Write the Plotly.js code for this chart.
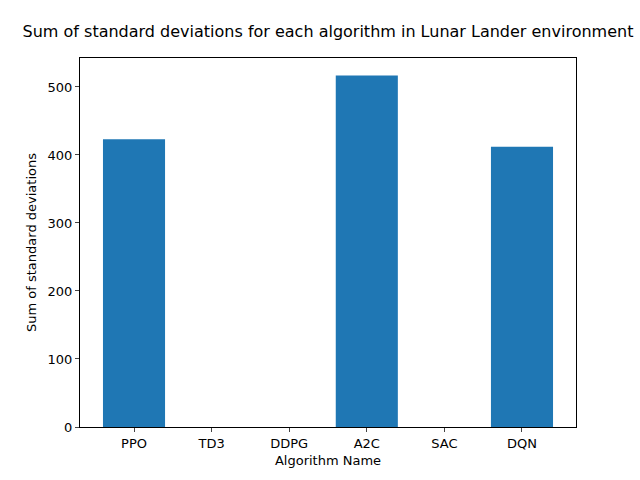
<!DOCTYPE html>
<html>
<head>
<script src="https://cdn.plot.ly/plotly-3.0.1.min.js"></script>
<style>body{margin:0}#chart{width:640px;height:480px}</style>
</head>
<body>
<div id="chart"></div>
<script>
const algorithms = ["PPO", "TD3", "DDPG", "A2C", "SAC", "DQN"];
const stdSums = [423, 0, 0, 517, 0, 412];
const yTicks = [0, 100, 200, 300, 400, 500];

const trace = {
  type: "bar",
  x: algorithms.map((_, i) => i),
  y: stdSums,
  width: 0.8,
  marker: { color: "#1f77b4" },
  hoverinfo: "x+y"
};

const layout = {
  width: 640,
  height: 480,
  margin: { l: 80, r: 64, t: 58, b: 53 },
  paper_bgcolor: "white",
  plot_bgcolor: "white",
  font: { family: "DejaVu Sans", size: 13, color: "black" },
  title: {
    text: "Sum of standard deviations for each algorithm in Lunar Lander environment",
    font: { size: 16 },
    x: 0.5125, xanchor: "center", y: 0.922, yanchor: "bottom"
  },
  xaxis: {
    range: [-0.696, 5.696],
    tickvals: algorithms.map((_, i) => i),
    ticktext: algorithms,
    ticks: "outside", ticklen: 4,
    showgrid: false, zeroline: false,
    showline: true, mirror: true, linecolor: "black", linewidth: 1,
    title: { text: "Algorithm Name", font: { size: 13 }, standoff: 6 }
  },
  yaxis: {
    range: [0, 542.6],
    tickvals: yTicks,
    ticks: "outside", ticklen: 4,
    showgrid: false, zeroline: false,
    showline: true, mirror: true, linecolor: "black", linewidth: 1,
    title: { text: "Sum of standard deviations", font: { size: 13 }, standoff: 8 }
  },
  showlegend: false
};

Plotly.newPlot("chart", [trace], layout, { displayModeBar: false });
</script>
</body>
</html>
